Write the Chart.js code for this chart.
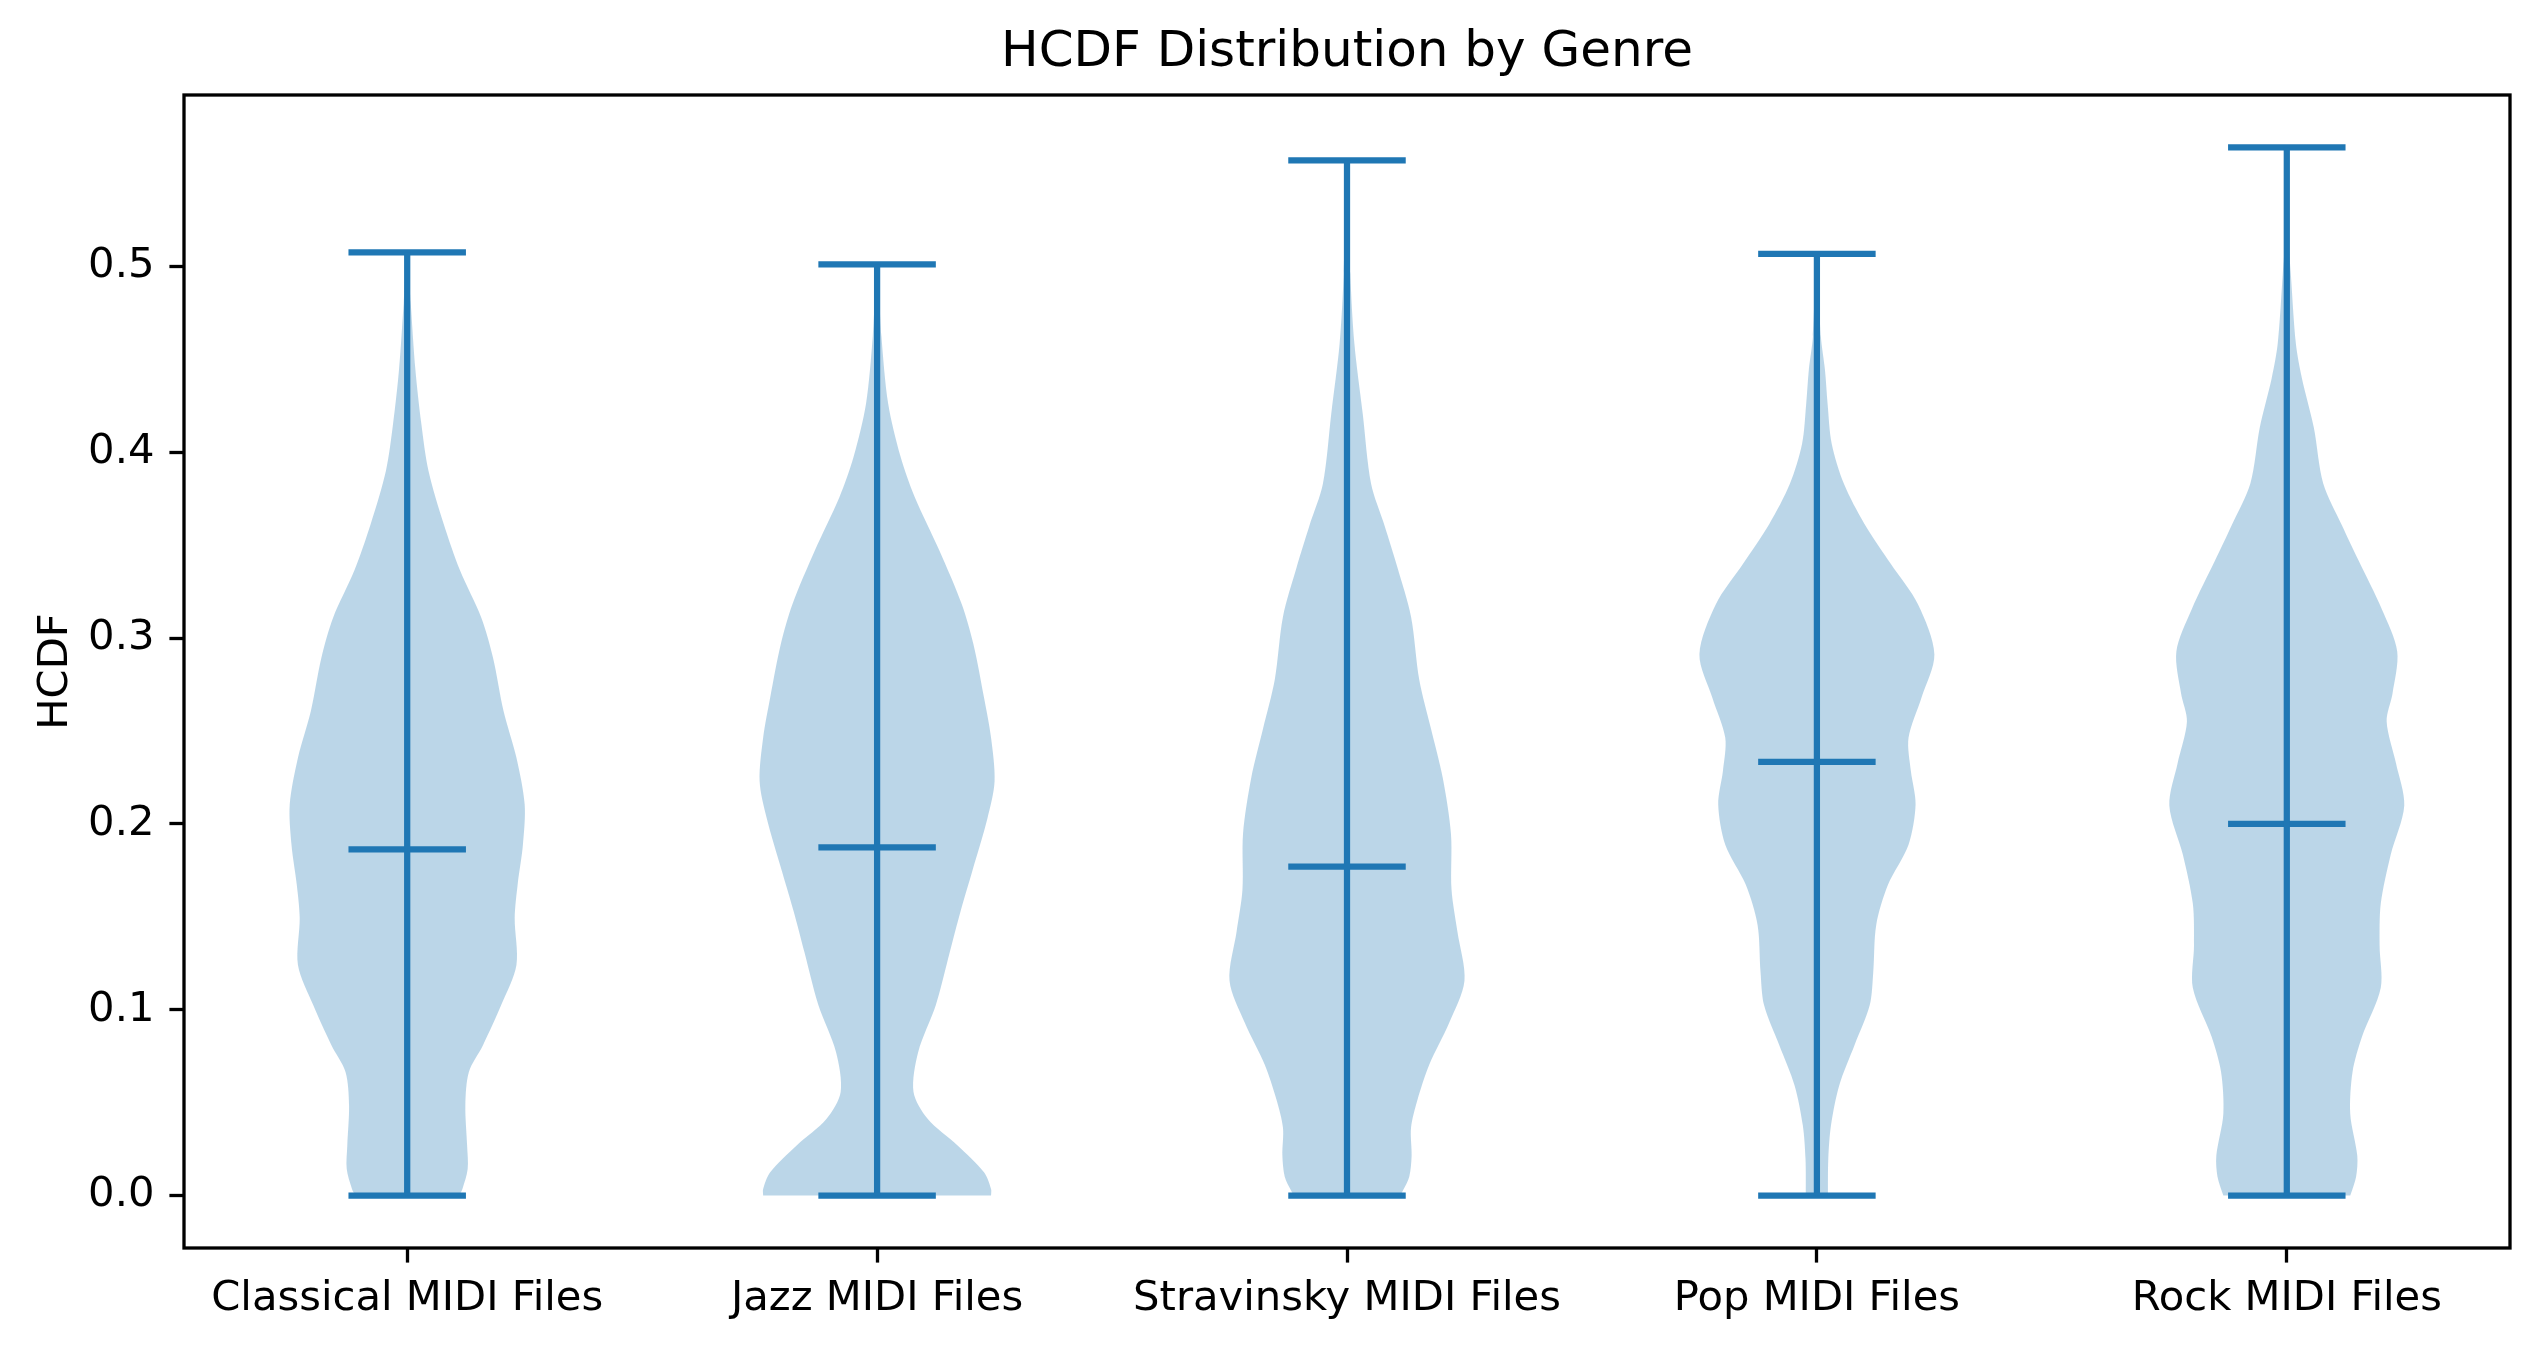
<!DOCTYPE html>
<html>
<head>
<meta charset="utf-8">
<script src="https://cdn.jsdelivr.net/npm/chart.js@4.4.1/dist/chart.umd.min.js"></script>
<style>
  html, body { margin: 0; padding: 0; background: #ffffff; }
  #wrap { width: 2539px; height: 1349px; position: relative; }
</style>
</head>
<body>
<div id="wrap"><canvas id="c"></canvas></div>
<script>
// ---------------- data ----------------
const genres = ['Classical MIDI Files', 'Jazz MIDI Files', 'Stravinsky MIDI Files', 'Pop MIDI Files', 'Rock MIDI Files'];
const minValues = [0, 0, 0, 0, 0];
const maxValues = [0.5075, 0.501, 0.557, 0.5067, 0.564];
const medianValues = [0.1863, 0.1874, 0.177, 0.2334, 0.2000];
const yTickValues = [0.0, 0.1, 0.2, 0.3, 0.4, 0.5];

// relative density (1 = widest point of that violin) at HCDF levels
const classicalLevels  = [0, 0.0036, 0.0144, 0.0270, 0.0486, 0.0665, 0.0809, 0.1025, 0.1241, 0.1493, 0.1673, 0.1888, 0.2104, 0.2356, 0.2608, 0.2896, 0.3111, 0.3363, 0.3615, 0.3903, 0.4154, 0.4442, 0.4802, 0.5075];
const classicalDensity = [0.44, 0.47, 0.515, 0.51, 0.495, 0.525, 0.645, 0.80, 0.93, 0.915, 0.94, 0.985, 1.0, 0.93, 0.82, 0.73, 0.63, 0.45, 0.31, 0.18, 0.12, 0.07, 0.03, 0.0];

const jazzLevels  = [0, 0.0036, 0.0126, 0.0270, 0.0414, 0.0558, 0.0773, 0.1025, 0.1313, 0.1529, 0.1745, 0.2032, 0.2230, 0.2464, 0.2680, 0.2967, 0.3183, 0.3471, 0.3759, 0.3975, 0.4262, 0.4622, 0.501];
const jazzDensity = [0.97, 0.97, 0.91, 0.685, 0.43, 0.31, 0.35, 0.50, 0.62, 0.71, 0.81, 0.94, 1.0, 0.97, 0.91, 0.82, 0.72, 0.53, 0.32, 0.20, 0.094, 0.037, 0.0];

const stravinskyLevels  = [0, 0.0026, 0.0102, 0.0215, 0.0365, 0.0516, 0.0704, 0.0930, 0.1156, 0.1420, 0.1646, 0.1947, 0.2248, 0.2512, 0.2776, 0.3115, 0.3378, 0.3604, 0.3830, 0.4207, 0.4583, 0.4960, 0.557];
const stravinskyDensity = [0.45, 0.475, 0.53, 0.55, 0.545, 0.60, 0.70, 0.87, 1.0, 0.94, 0.89, 0.885, 0.815, 0.715, 0.615, 0.545, 0.43, 0.32, 0.205, 0.134, 0.063, 0.028, 0.0];

const popLevels  = [0, 0.0198, 0.0378, 0.0593, 0.0809, 0.1025, 0.1205, 0.1456, 0.1672, 0.1888, 0.2104, 0.2284, 0.2463, 0.2679, 0.2913, 0.3182, 0.3398, 0.3614, 0.3830, 0.4046, 0.4261, 0.4441, 0.4621, 0.5067];
const popDensity = [0.094, 0.097, 0.12, 0.19, 0.32, 0.45, 0.48, 0.505, 0.605, 0.78, 0.84, 0.80, 0.78, 0.89, 1.0, 0.86, 0.63, 0.405, 0.23, 0.126, 0.091, 0.069, 0.034, 0.0];

const rockLevels  = [0, 0.0102, 0.0215, 0.0441, 0.0667, 0.0855, 0.1119, 0.1345, 0.1571, 0.1835, 0.2099, 0.2325, 0.2551, 0.2702, 0.2928, 0.3154, 0.3418, 0.3606, 0.3832, 0.4133, 0.4397, 0.4586, 0.4962, 0.5151, 0.564];
const rockDensity = [0.54, 0.59, 0.60, 0.54, 0.56, 0.64, 0.80, 0.79, 0.80, 0.885, 1.0, 0.93, 0.85, 0.90, 0.94, 0.81, 0.61, 0.47, 0.31, 0.23, 0.129, 0.077, 0.034, 0.014, 0.0];

const levelsByGenre  = [classicalLevels, jazzLevels, stravinskyLevels, popLevels, rockLevels];
const densityByGenre = [classicalDensity, jazzDensity, stravinskyDensity, popDensity, rockDensity];

// ---------------- styling ----------------
const violinWidth = 0.5;          // matplotlib default widths
const lineColor = '#1f77b4';
const bodyColor = 'rgba(31,119,180,0.3)';
const FONT = 'DejaVu Sans';
const LW = 6.25;

// ---------------- datasets ----------------
const datasets = [];
genres.forEach((g, i) => {
  const c = i + 1;
  const lv = levelsByGenre[i], dn = densityByGenre[i];
  const half = violinWidth / 2;
  const pts = [];
  for (let k = 0; k < lv.length; k++) pts.push({x: c + half * dn[k], y: lv[k]});
  for (let k = lv.length - 2; k >= 0; k--) pts.push({x: c - half * dn[k], y: lv[k]});
  datasets.push({
    label: g + ' body', data: pts, showLine: true, fill: 'shape',
    backgroundColor: bodyColor, borderWidth: 0, borderColor: 'rgba(0,0,0,0)',
    pointRadius: 0, tension: 0.3, order: 2
  });
});
const capHalf = violinWidth / 4;
genres.forEach((g, i) => {
  const c = i + 1;
  const common = {showLine: true, fill: false, borderColor: lineColor, borderWidth: LW,
    pointRadius: 0, tension: 0, order: 1, borderCapStyle: 'butt'};
  datasets.push(Object.assign({label: g + ' stem', data: [{x: c, y: minValues[i]}, {x: c, y: maxValues[i]}]}, common));
  datasets.push(Object.assign({label: g + ' max', data: [{x: c - capHalf, y: maxValues[i]}, {x: c + capHalf, y: maxValues[i]}]}, common));
  datasets.push(Object.assign({label: g + ' min', data: [{x: c - capHalf, y: minValues[i]}, {x: c + capHalf, y: minValues[i]}]}, common));
  datasets.push(Object.assign({label: g + ' median', data: [{x: c - capHalf, y: medianValues[i]}, {x: c + capHalf, y: medianValues[i]}]}, common));
});

// axis limits like matplotlib (5% margins)
const yLo = Math.min(...minValues), yHi = Math.max(...maxValues);
const yPad = 0.05 * (yHi - yLo);
const xLo = 1 - violinWidth / 2, xHi = genres.length + violinWidth / 2;
const xPad = 0.05 * (xHi - xLo);

const framePlugin = {
  id: 'frame',
  afterLayout(chart) {
    // centre the title over the plotting area, as matplotlib does
    const tb = chart.titleBlock;
    if (tb) { tb.left = chart.chartArea.left; tb.right = chart.chartArea.right; tb.width = tb.right - tb.left; }
  },
  afterDraw(chart) {
    const {ctx, chartArea: a} = chart;
    ctx.save();
    ctx.strokeStyle = '#000';
    ctx.lineWidth = 3.3;
    ctx.strokeRect(a.left, a.top, a.right - a.left, a.bottom - a.top);
    ctx.restore();
  }
};

Chart.defaults.font.family = FONT;
Chart.defaults.color = '#000';

new Chart(document.getElementById('c'), {
  type: 'scatter',
  data: {datasets},
  plugins: [framePlugin],
  options: {
    responsive: true,
    maintainAspectRatio: false,
    animation: false,
    layout: {padding: {left: 0, right: 29, top: 0, bottom: 0}},
    plugins: {
      legend: {display: false},
      tooltip: {enabled: false},
      title: {
        display: true, text: 'HCDF Distribution by Genre', color: '#000',
        font: {family: FONT, size: 50, weight: 'normal'},
        padding: {top: 23, bottom: 12}
      }
    },
    scales: {
      x: {
        type: 'linear', min: xLo - xPad, max: xHi + xPad,
        afterBuildTicks: s => { s.ticks = genres.map((g, i) => ({value: i + 1})); },
        afterFit: s => { s.height = 101; },
        ticks: {
          autoSkip: false, maxRotation: 0, minRotation: 0, padding: 12,
          color: '#000', font: {family: FONT, size: 41.7},
          callback: v => genres[Math.round(v) - 1]
        },
        grid: {display: true, drawOnChartArea: false, drawTicks: true, tickLength: 14.6, tickWidth: 3.3, tickColor: '#000'},
        border: {display: false}
      },
      y: {
        type: 'linear', min: yLo - yPad, max: yHi + yPad,
        afterBuildTicks: s => { s.ticks = yTickValues.map(v => ({value: v})); },
        afterFit: s => { s.width = 184; },
        ticks: {
          padding: 15, color: '#000', font: {family: FONT, size: 41.7},
          callback: v => Number(v).toFixed(1)
        },
        grid: {display: true, drawOnChartArea: false, drawTicks: true, tickLength: 14.6, tickWidth: 3.3, tickColor: '#000'},
        border: {display: false},
        title: {display: true, text: 'HCDF', color: '#000', font: {family: FONT, size: 41.7}, padding: {top: 31, bottom: 0}}
      }
    }
  }
});
</script>
</body>
</html>
